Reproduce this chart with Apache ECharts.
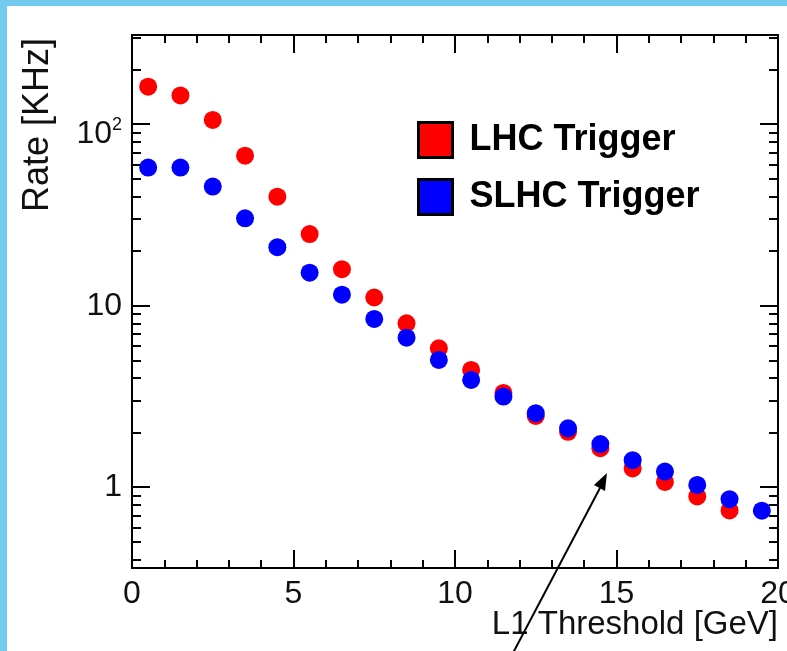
<!DOCTYPE html>
<html>
<head>
<meta charset="utf-8">
<script src="https://cdn.jsdelivr.net/npm/echarts@6/dist/echarts.min.js"></script>
<style>
  html, body { margin: 0; padding: 0; background: #ffffff; }
  #chart { width: 787px; height: 651px; }
</style>
</head>
<body>
<div id="chart"></div>
<script>
// ---- data ----
const thresholds = [0.5, 1.5, 2.5, 3.5, 4.5, 5.5, 6.5, 7.5, 8.5, 9.5,
                    10.5, 11.5, 12.5, 13.5, 14.5, 15.5, 16.5, 17.5, 18.5, 19.5];
const lhcRate  = [161, 144, 105.6, 67.1, 39.9, 24.8, 15.9, 11.1, 8.0, 5.83,
                  4.43, 3.31, 2.47, 2.02, 1.64, 1.27, 1.07, 0.89, 0.745, null];
const slhcRate = [57.7, 57.7, 45.3, 30.3, 21.0, 15.2, 11.5, 8.46, 6.67, 5.03,
                  3.90, 3.16, 2.56, 2.11, 1.73, 1.41, 1.22, 1.03, 0.86, 0.743];
const seriesNames = ['LHC Trigger', 'SLHC Trigger'];
const yMajorTicks = [1, 10, 100];
const yMinorTicks = [0.4, 0.5, 0.6, 0.7, 0.8, 0.9,
                     2, 3, 4, 5, 6, 7, 8, 9,
                     20, 30, 40, 50, 60, 70, 80, 90,
                     200, 300];
const xTickLabels = [0, 5, 10, 15, 20];
const xTitle = 'L1 Threshold [GeV]';
const yTitle = 'Rate [KHz]';

// ---- build ----
const FONT = '"Liberation Sans", Arial, Helvetica, sans-serif';
const pairs = (vals) => thresholds.map((x, i) => [x, vals[i]]).filter(p => p[1] != null);

const yMin = 0.359, yMax = 310;

function yAxisDef(position, ticks, len, showLine, showLabel) {
  return {
    type: 'log', logBase: 10, min: yMin, max: yMax, position: position,
    axisLine: { show: showLine, onZero: false, lineStyle: { color: '#000', width: 2 } },
    axisTick: { show: true, inside: true, length: len, customValues: ticks,
                lineStyle: { color: '#000', width: 2 } },
    axisLabel: showLabel ? {
      show: true, customValues: yMajorTicks, margin: 10,
      formatter: function (v) {
        const r = Math.round(v);
        if (r === 100) return '{b|10}{sup|2}';
        return '{n|' + r + '}';
      },
      rich: {
        n: { fontFamily: FONT, fontSize: 32, color: '#111' },
        b: { fontFamily: FONT, fontSize: 32, lineHeight: 32, color: '#111', padding: [20, 0, 0, 0] },
        sup: { fontFamily: FONT, fontSize: 18, lineHeight: 18, color: '#111', padding: [18, 0, 16, 0] }
      }
    } : { show: false },
    splitLine: { show: false },
    minorTick: { show: false },
    minorSplitLine: { show: false }
  };
}

function xAxisDef(position, showLabel) {
  return {
    type: 'value', min: 0, max: 20, interval: 5, position: position,
    axisLine: { show: true, onZero: false, lineStyle: { color: '#000', width: 2 } },
    axisTick: { show: true, inside: true, length: 18, lineStyle: { color: '#000', width: 2 } },
    minorTick: { show: true, splitNumber: 5, length: 8, lineStyle: { color: '#000', width: 2 } },
    axisLabel: showLabel ? {
      show: true, margin: 10, fontFamily: FONT, fontSize: 32, color: '#111',
      customValues: xTickLabels, showMaxLabel: true, showMinLabel: true
    } : { show: false },
    splitLine: { show: false }
  };
}

const chart = echarts.init(document.getElementById('chart'), null, { renderer: 'canvas' });
chart.setOption({
  backgroundColor: '#ffffff',
  animation: false,
  grid: { left: 132, right: 9, top: 35, bottom: 83, containLabel: false, outerBoundsMode: 'none' },
  xAxis: [xAxisDef('bottom', true), xAxisDef('top', false)],
  yAxis: [
    yAxisDef('left', yMajorTicks, 18, true, true),
    yAxisDef('left', yMinorTicks, 9, false, false),
    yAxisDef('right', yMajorTicks, 18, true, false),
    yAxisDef('right', yMinorTicks, 9, false, false)
  ],
  legend: {
    orient: 'vertical', left: 417, top: 121, padding: 0,
    icon: 'rect', itemWidth: 34, itemHeight: 35, itemGap: 19,
    itemStyle: { borderColor: '#000', borderWidth: 3 },
    textStyle: { fontFamily: FONT, fontSize: 36, fontWeight: 'bold', color: '#000',
                 lineHeight: 38, padding: [0, 0, 0, 12] },
    data: seriesNames
  },
  series: [
    { name: seriesNames[0], type: 'scatter', xAxisIndex: 0, yAxisIndex: 0,
      symbol: 'circle', symbolSize: 18, itemStyle: { color: '#ff0000', opacity: 1 },
      data: pairs(lhcRate), z: 2 },
    { name: seriesNames[1], type: 'scatter', xAxisIndex: 0, yAxisIndex: 0,
      symbol: 'circle', symbolSize: 18, itemStyle: { color: '#0000ff', opacity: 1 },
      data: pairs(slhcRate), z: 3 }
  ],
  graphic: [
    { type: 'rect', shape: { x: 0, y: 0, width: 787, height: 6 }, style: { fill: '#72cbee' }, z: 10 },
    { type: 'rect', shape: { x: 0, y: 0, width: 7, height: 651 }, style: { fill: '#72cbee' }, z: 10 },
    { type: 'text', x: 38, y: 125, rotation: Math.PI / 2,
      style: { text: yTitle, x: 0, y: 0, font: '36px ' + FONT, fill: '#111',
               align: 'center', verticalAlign: 'middle', textAlign: 'center', textVerticalAlign: 'middle' },
      z: 10 },
    { type: 'text', x: 778, y: 625,
      style: { text: xTitle, x: 0, y: 0, font: '33px ' + FONT, fill: '#111',
               align: 'right', verticalAlign: 'middle', textAlign: 'right', textVerticalAlign: 'middle' },
      z: 10 },
    { type: 'line', shape: { x1: 513, y1: 653, x2: 600, y2: 488 },
      style: { stroke: '#000', lineWidth: 2 }, z: 20 },
    { type: 'polygon', shape: { points: [[607, 473], [605, 491], [594, 485]] },
      style: { fill: '#000' }, z: 20 }
  ]
});
</script>
</body>
</html>
